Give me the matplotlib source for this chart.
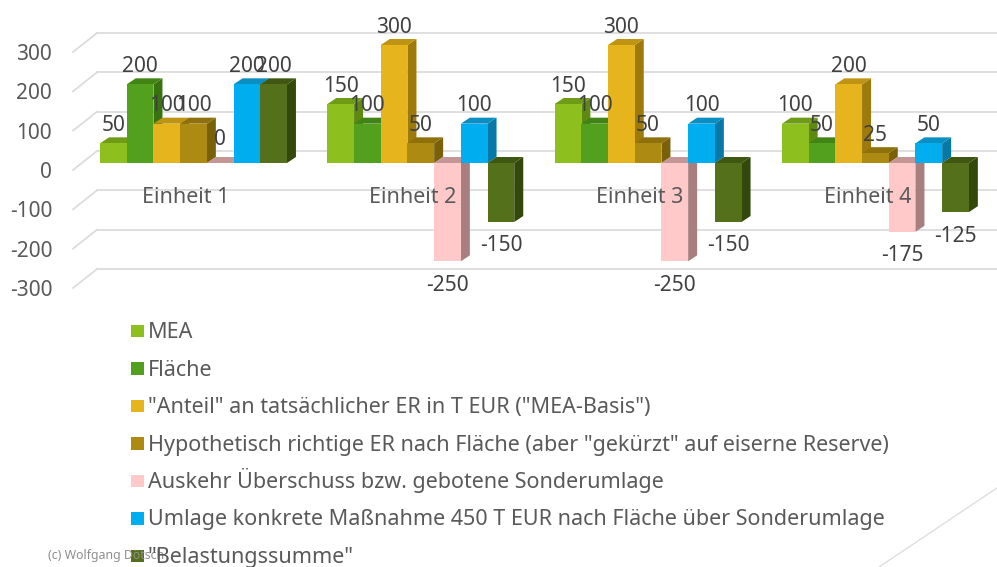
import matplotlib
matplotlib.use('Agg')
import matplotlib.pyplot as plt
from matplotlib.patches import Rectangle
from matplotlib.lines import Line2D

# Data
categories = ['Einheit 1', 'Einheit 2', 'Einheit 3', 'Einheit 4']
series_names = ['MEA', 'Fläche', '"Anteil" an tatsächlicher ER in T EUR ("MEA-Basis")',
                'Hypothetisch richtige ER nach Fläche (aber "gekürzt" auf eiserne Reserve)',
                'Auskehr Überschuss bzw. gebotene Sonderumlage',
                'Umlage konkrete Maßnahme 450 T EUR nach Fläche über Sonderumlage',
                '"Belastungssumme"']
mea = [50, 150, 150, 100]
flaeche = [200, 100, 100, 50]
anteil = [100, 300, 300, 200]
hypothetisch = [100, 50, 50, 25]
auskehr = [0, -250, -250, -175]
umlage = [200, 100, 100, 50]
belastung = [200, -150, -150, -125]
series = [mea, flaeche, anteil, hypothetisch, auskehr, umlage, belastung]
yticks = [300, 200, 100, 0, -100, -200, -300]

front_colors = ['#8DC01F', '#52A01E', '#E6B41C', '#AD8A11', '#FFC9C9', '#00AEEF', '#54701A']
top_colors = ['#6F9C16', '#3F8414', '#BF9412', '#8F710B', '#C49696', '#0A8FC4', '#3F5710']
side_colors = ['#5F8A12', '#37730F', '#9E7A0A', '#7A6008', '#A87F7F', '#0779A8', '#33480B']

plt.rcParams['font.family'] = ['Noto Sans', 'DejaVu Sans']

W, H = 997, 567
fig = plt.figure(figsize=(W / 100, H / 100), dpi=100)
ax = fig.add_axes([0, 0, 1, 1])

# scale: pixels of the original picture
px_per_group = 227.3
px_per_unit = 0.3933
x0_px = 193.5   # centre of first group
y0_px = 163     # zero line, front of bars
ax.set_xlim(-x0_px / px_per_group, (W - x0_px) / px_per_group)
ax.set_ylim((y0_px - H) / px_per_unit, y0_px / px_per_unit)
ax.axis('off')

dx = 9 / px_per_group      # bar depth
dy = 6 / px_per_unit
bw = 26.7 / px_per_group   # bar width

# back wall grid and the diagonal floor lines
grid_color = '#dcdcdc'
back_x = (97 - x0_px) / px_per_group
front_x = (73 - x0_px) / px_per_group
back_dy = 12 / px_per_unit
front_dy = -7 / px_per_unit
for t in yticks:
    ax.plot([front_x, back_x], [t + front_dy, t + back_dy], color=grid_color, lw=1.3, zorder=1)
    ax.plot([back_x, ax.get_xlim()[1]], [t + back_dy, t + back_dy], color=grid_color, lw=1.3, zorder=1)
    ax.annotate(str(t), (front_x, t), xytext=(-15, -9.5 * 0.72), textcoords='offset points',
                ha='right', va='center', fontsize=15, color='#595959', zorder=5)

# bars go left to right so the next front hides the previous side
z = 2
for g in range(len(categories)):
    for s, vals in enumerate(series):
        v = vals[g]
        left = g + (s - 3.5) * bw
        right = left + bw
        ax.fill([right, right + dx, right + dx, right], [0, dy, v + dy, v],
                color=side_colors[s], lw=0, zorder=z)
        top = max(v, 0)
        ax.fill([left, left + dx, right + dx, right], [top, top + dy, top + dy, top],
                color=top_colors[s], lw=0, zorder=z)
        ax.bar(left + bw / 2, v, width=bw, color=front_colors[s], lw=0, zorder=z)
        z += 0.01

# value labels
for g in range(len(categories)):
    for s, vals in enumerate(series):
        v = vals[g]
        x = g + (s - 3) * bw
        if v > 0:
            off = 18
        elif v == 0:
            off = 23
        else:
            off = -24
        ax.annotate(str(v), (x, v), xytext=(0, off * 0.72), textcoords='offset points',
                    ha='center', va='center', fontsize=15, color='#404040', zorder=6)

# category labels
for g, name in enumerate(categories):
    ax.annotate(name, (g, 0), xytext=(-8 * 0.72, -35 * 0.72), textcoords='offset points',
                ha='center', va='center', fontsize=15.5, color='#595959', zorder=6)

# footer note and slide decoration
fig.text(48 / W, 1 - 556 / H, '(c) Wolfgang Dötsch', fontsize=8.9, color='#8f8f8f', va='center')
fig.add_artist(Line2D([879 / W, 1], [0, 1 - 488 / H], color='#dedede', lw=1))

# legend rows, drawn by hand so the umlaut does not stretch the spacing
for i, name in enumerate(series_names):
    row = 331 + 37.5 * i
    fig.add_artist(Rectangle((131 / W, 1 - (row + 6.2) / H), 12.5 / W, 12.5 / H,
                             transform=fig.transFigure, facecolor=front_colors[i], lw=0))
    fig.text(148 / W, 1 - (row + 7) / H, name, fontsize=15.5, color='#595959', va='baseline')

fig.savefig('out.png', dpi=100)
